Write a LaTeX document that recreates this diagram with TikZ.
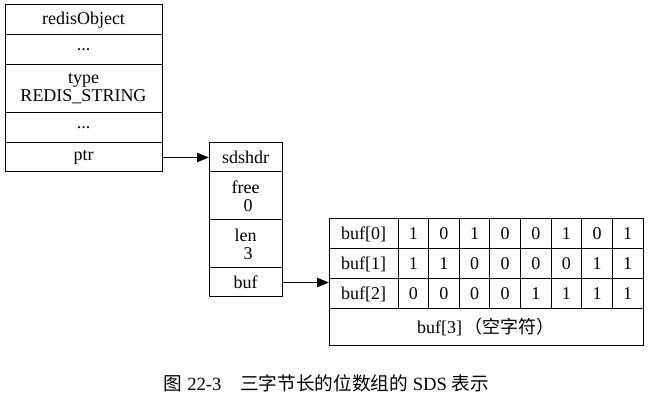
\documentclass[tikz,border=0pt]{standalone}
\usepackage{fontspec}
\setmainfont{Liberation Serif}
\newfontfamily\cjk{Noto Sans CJK SC}
\usetikzlibrary{arrows.meta}
\begin{document}
\begin{tikzpicture}[x=0.75pt,y=-0.75pt,
  cell/.style={draw, line width=0.75pt, inner sep=0pt, outer sep=0pt, align=center,
    font=\fontsize{13.5}{13.5}\selectfont},
  objcell/.style={cell, minimum width=117.75pt},
  sdscell/.style={cell, minimum width=54.75pt},
  labcell/.style={cell, minimum width=51.75pt, minimum height=22.5pt},
  bitcell/.style={cell, minimum width=22.97pt, minimum height=22.5pt},
  short/.style={minimum height=22.5pt},
  tall/.style={minimum height=36pt},
  ptrarrow/.style={line width=0.75pt, -{Triangle[length=9pt,width=7pt]}}]
\useasboundingbox (0,0) rectangle (649,409);

% redisObject structure
\node[objcell, short] (ro)    at (83.5,20)    {redisObject};
\node[objcell, short] (rodot1) at (83.5,50)   {...};
\node[objcell, tall]  (rotype) at (83.5,89)   {type\\REDIS\_STRING};
\node[objcell, short] (rodot2) at (83.5,128)  {...};
\node[objcell, minimum height=21.75pt] (ptr) at (83.5,157.5) {ptr};

% sdshdr structure
\node[sdscell, minimum height=21.75pt] (sds) at (245.5,157.5) {sdshdr};
\node[sdscell, tall] (free) at (245.5,196) {free\\\hspace*{0.3em}0};
\node[sdscell, tall] (len)  at (245.5,244) {len\\\hspace*{0.3em}3};
\node[sdscell, minimum height=21.75pt] (buf) at (245.5,282.5) {buf};

% byte array: one row per byte, one cell per bit
\foreach \lab [count=\r from 0] in {buf[0],buf[1],buf[2]}
  \node[labcell] (t\r) at (363.5,{234+30*\r}) {\lab};
\foreach \bits [count=\r from 0] in {{1,0,1,0,0,1,0,1},{1,1,0,0,0,0,1,1},{0,0,0,0,1,1,1,1}} {
  \foreach \b [count=\c from 0] in \bits {
    \node[bitcell] (b\r-\c) at ({398+30.625*(\c+0.5)},{234+30*\r}) {\b};
  }
}
\node[cell, minimum width=235.5pt, minimum height=27pt] (t3) at (486,327)
  {buf[3]\,{\cjk （空字符）}};

% pointers
\draw[ptrarrow] (ptr.east) -- (sds.west);
\draw[ptrarrow] (buf.east) -- (buf.east -| t2.west);

% caption
\node[font=\fontsize{14}{14}\selectfont, inner sep=0pt] (cap) at (326.5,383)
  {{\cjk 图} 22-3{\cjk 　三字节长的位数组的} SDS {\cjk 表示}};
\end{tikzpicture}
\end{document}
